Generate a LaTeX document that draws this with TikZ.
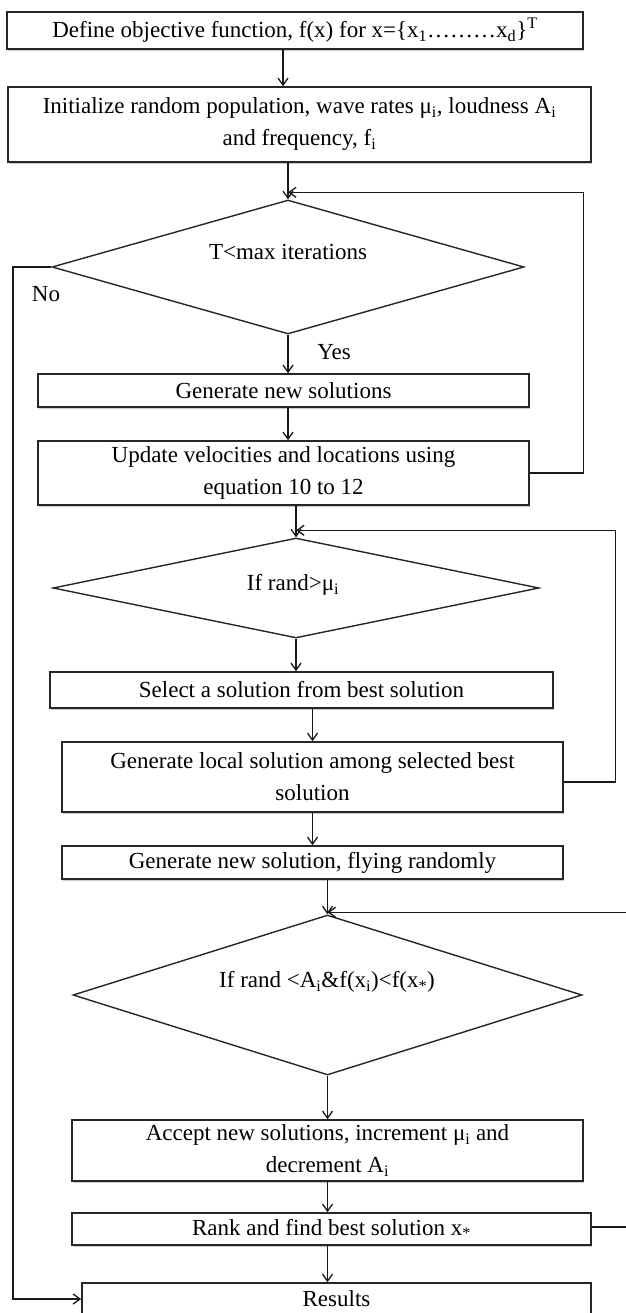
\documentclass[tikz,border=0pt]{standalone}
\usepackage{fontspec}
\setmainfont{Liberation Serif}
\usetikzlibrary{arrows.meta,shapes.geometric,shadows}
\tikzset{
  box/.style={draw=black!85, line width=1.6pt, fill=white, align=center, inner sep=2pt,
    drop shadow={shadow xshift=1.2pt, shadow yshift=-2pt, fill=black!40, opacity=0.5}},
  dia/.style={draw=black!85, shape=diamond, line width=1.4pt, inner sep=0pt},
  arr/.style={line width=1.3pt, draw=black!90, -{Straight Barb[length=7pt,width=10pt]}},
  lbl/.style={inner sep=0pt, align=center}
}
\begin{document}
\begin{tikzpicture}[x=1pt, y=-1pt, font=\fontsize{23}{32}\selectfont]
\useasboundingbox (0,0) rectangle (625,1313);
\fill[white] (0,0) rectangle (625,1313);

% process boxes
\node[box, minimum width=576pt, minimum height=37pt] (b1) at (295,30.5)
  {Define objective function, f(x) for x=\{x\textsubscript{1}………x\textsubscript{d}\}\textsuperscript{T}};
\node[box, minimum width=583pt, minimum height=75pt] (b2) at (299.5,124.5)
  {Initialize random population, wave rates μ\textsubscript{i}, loudness A\textsubscript{i}\\ and frequency, f\textsubscript{i}};
\node[box, minimum width=491pt, minimum height=33pt] (b3) at (283.5,390.5)
  {Generate new solutions};
\node[box, minimum width=491pt, minimum height=64pt] (b4) at (283.5,473)
  {Update velocities and locations using\\ equation 10 to 12};
\node[box, minimum width=503pt, minimum height=36pt] (b5) at (301.5,690)
  {Select a solution from best solution};
\node[box, minimum width=501pt, minimum height=70pt] (b6) at (312.5,777)
  {Generate local solution among selected best\\ solution};
\node[box, minimum width=501pt, minimum height=33pt] (b7) at (312.5,862.5)
  {Generate new solution, flying randomly};
\node[box, minimum width=511pt, minimum height=61pt] (b8) at (327.5,1150.5)
  {Accept new solutions, increment μ\textsubscript{i} and\\ decrement A\textsubscript{i}};
\node[box, minimum width=519pt, minimum height=32pt] (b9) at (331.5,1229)
  {Rank and find best solution x\textsubscript{*}};
\node[box, minimum width=509pt, minimum height=32pt] (b10) at (336.5,1299)
  {Results};

% decisions
\node[dia, minimum width=472pt, minimum height=134pt] (d1) at (288,267) {};
\node[lbl] (t1) at (288,252) {T<max iterations};
\node[dia, minimum width=486pt, minimum height=100pt] (d2) at (296,588) {};
\node[lbl] (t2) at (293,585) {If rand>μ\textsubscript{i}};
\node[dia, minimum width=509pt, minimum height=160pt] (d3) at (327.5,995) {};
\node[lbl] (t3) at (327,982) {If rand <A\textsubscript{i}\&f(x\textsubscript{i})<f(x\textsubscript{*})};

% branch labels
\node[lbl] (no) at (46,294) {No};
\node[lbl] (yes) at (334,352) {Yes};

% main flow
\draw[arr] ([xshift=-12pt]b1.south) -- ([xshift=-12pt]b1.south |- b2.north);
\draw[arr] (b2.south -| d1.north) -- (d1.north);
\draw[arr] (d1.south) -- (d1.south |- b3.north);
\draw[arr] (b3.south -| d1.south) -- (b4.north -| d1.south);
\draw[arr] (b4.south -| d2.north) -- (d2.north);
\draw[arr] (d2.south) -- (d2.south |- b5.north);
\draw[arr] (b5.south -| b6.north) -- (b6.north);
\draw[arr] (b6.south) -- (b7.north);
\draw[arr] (b7.south -| d3.north) -- (d3.north);
\draw[arr] (d3.south) -- (d3.south |- b8.north);
\draw[arr] (b8.south) -- (b8.south |- b9.north);
\draw[arr] (b9.south -| b8.south) -- (b8.south |- b10.north);

% loops back
\draw[arr] (b4.east) -- ++(54,0) |- ([yshift=7pt]d1.north);
\draw[arr] ([yshift=-5pt]b6.east) -- ++(52,0) |- ([yshift=7pt]d2.north);
\draw[arr] ([yshift=2pt]b9.east) -- ++(40,0) |- ([yshift=2pt]d3.north);

% exit branch
\coordinate (nx) at (13,267);
\draw[arr] (d1.west) -- (d1.west -| nx) |- (b10.west);
\end{tikzpicture}
\end{document}
